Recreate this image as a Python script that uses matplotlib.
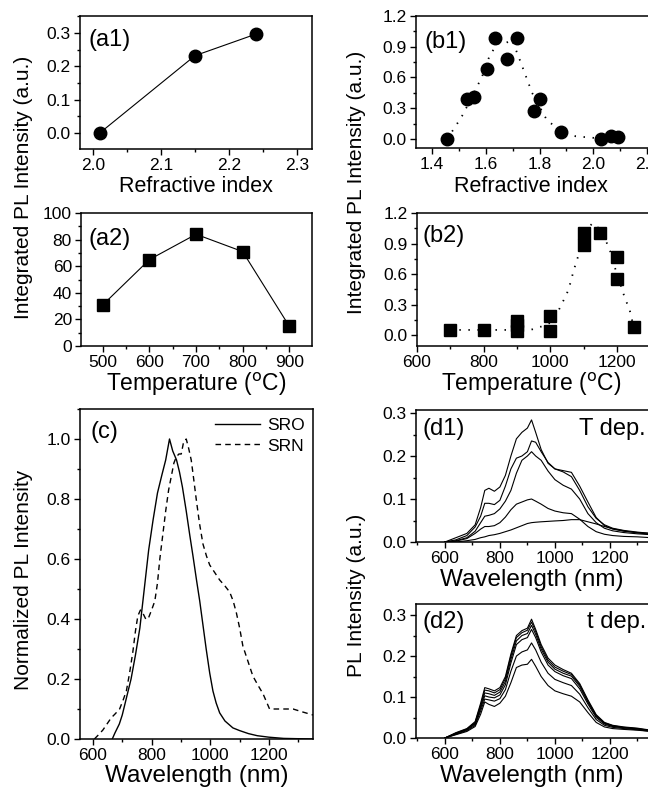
import matplotlib
matplotlib.use("Agg")
import matplotlib.pyplot as plt
from matplotlib.ticker import MultipleLocator

plt.rcParams['font.family'] = ['Liberation Sans', 'DejaVu Sans']

# ---------------- data ----------------
a1_index = [2.01, 2.15, 2.24]
a1_pl = [0.0, 0.232, 0.297]

a2_temp = [500, 600, 700, 800, 900]
a2_pl = [31, 65, 84, 71, 15]

b1_index = [1.456, 1.531, 1.555, 1.606, 1.633, 1.679, 1.716, 1.779, 1.803, 1.878, 2.028, 2.065, 2.092]
b1_pl = [0.0, 0.39, 0.41, 0.68, 0.99, 0.78, 0.99, 0.27, 0.39, 0.065, 0.0, 0.026, 0.016]
b1_fit_index = [1.456, 1.491, 1.514, 1.55, 1.586, 1.615, 1.644, 1.677, 1.697, 1.728, 1.772, 1.828, 1.888, 1.935, 2.005, 2.09]
b1_fit_pl = [0.0, 0.14, 0.236, 0.42, 0.61, 0.82, 0.93, 0.94, 0.97, 0.76, 0.45, 0.18, 0.065, 0.026, 0.01, 0.0]

b2_temp = [700, 800, 900, 900, 900, 1000, 1000, 1100, 1100, 1150, 1200, 1200, 1250]
b2_pl = [0.05, 0.05, 0.04, 0.10, 0.14, 0.04, 0.19, 0.89, 1.0, 1.0, 0.77, 0.55, 0.08]
b2_fit_temp = [700, 800, 900, 940, 970, 1000, 1020, 1035, 1050, 1060, 1068, 1077, 1087, 1100, 1115, 1127, 1140, 1165, 1180, 1195, 1215, 1225, 1237, 1250]
b2_fit_pl = [0.05, 0.05, 0.05, 0.05, 0.08, 0.12, 0.21, 0.31, 0.41, 0.51, 0.61, 0.71, 0.81, 0.95, 1.06, 1.10, 1.07, 0.94, 0.82, 0.65, 0.45, 0.35, 0.26, 0.08]

sro_wl = [666, 675, 690, 700, 715, 730, 745, 760, 775, 790, 805, 820, 835, 848, 861, 872, 885, 895, 905, 918,
          930, 941, 953, 964, 975, 986, 998, 1009, 1020, 1032, 1050, 1077, 1100, 1130, 1160, 1200, 1250, 1350]
sro_pl = [0.0, 0.02, 0.05, 0.08, 0.14, 0.20, 0.28, 0.37, 0.50, 0.63, 0.73, 0.82, 0.88, 0.93, 1.0, 0.96, 0.93, 0.89, 0.84, 0.76,
          0.68, 0.61, 0.53, 0.46, 0.38, 0.30, 0.22, 0.16, 0.12, 0.087, 0.06, 0.037, 0.028, 0.018, 0.011, 0.006, 0.002, 0.0]
srn_wl = [605, 620, 634, 648, 662, 677, 691, 703, 714, 725, 736, 745, 753, 762, 770, 780, 788, 800, 811, 820, 828, 838,
          848, 858, 868, 876, 884, 893, 901, 909, 918, 926, 935, 943, 952, 963, 975, 987, 998, 1015, 1032, 1050, 1066,
          1078, 1089, 1100, 1111, 1128, 1145, 1162, 1180, 1202, 1225, 1250, 1282, 1315, 1350]
srn_pl = [0.0, 0.015, 0.03, 0.05, 0.07, 0.085, 0.10, 0.13, 0.16, 0.22, 0.29, 0.36, 0.41, 0.43, 0.42, 0.40, 0.40, 0.43, 0.46, 0.52, 0.60, 0.68,
          0.76, 0.83, 0.88, 0.92, 0.94, 0.95, 0.95, 0.99, 1.0, 0.97, 0.93, 0.87, 0.80, 0.72, 0.65, 0.61, 0.58, 0.555, 0.53, 0.51, 0.49,
          0.46, 0.42, 0.37, 0.31, 0.26, 0.21, 0.18, 0.15, 0.10, 0.10, 0.10, 0.10, 0.09, 0.08]

wl = [600, 640, 680, 710, 730, 745, 760, 780, 800, 820, 840, 860, 880, 900, 915, 930, 950, 975, 1000, 1030, 1060, 1090, 1120, 1150, 1180, 1210, 1250, 1300, 1350]

d1_T1 = [0, 0.01, 0.02, 0.04, 0.08, 0.12, 0.125, 0.118, 0.128, 0.155, 0.20, 0.24, 0.255, 0.265, 0.284, 0.255, 0.215, 0.183, 0.17, 0.166, 0.162, 0.13, 0.093, 0.057, 0.038, 0.03, 0.025, 0.022, 0.02]
d1_T2 = [0, 0.005, 0.015, 0.035, 0.06, 0.09, 0.09, 0.087, 0.097, 0.13, 0.17, 0.195, 0.20, 0.21, 0.235, 0.232, 0.21, 0.185, 0.17, 0.163, 0.152, 0.12, 0.082, 0.055, 0.04, 0.032, 0.027, 0.023, 0.02]
d1_T3 = [0, 0.003, 0.01, 0.025, 0.045, 0.06, 0.062, 0.066, 0.077, 0.095, 0.12, 0.16, 0.19, 0.20, 0.21, 0.20, 0.19, 0.165, 0.145, 0.132, 0.123, 0.10, 0.066, 0.045, 0.032, 0.026, 0.022, 0.019, 0.017]
d1_T4 = [0, 0.002, 0.008, 0.02, 0.03, 0.036, 0.036, 0.038, 0.045, 0.058, 0.075, 0.088, 0.093, 0.098, 0.10, 0.095, 0.088, 0.078, 0.072, 0.068, 0.066, 0.053, 0.036, 0.024, 0.018, 0.015, 0.013, 0.012, 0.01]
d1_T5 = [0, 0, 0.003, 0.006, 0.01, 0.012, 0.015, 0.017, 0.02, 0.024, 0.028, 0.033, 0.038, 0.043, 0.045, 0.046, 0.047, 0.048, 0.049, 0.05, 0.052, 0.052, 0.047, 0.042, 0.036, 0.031, 0.026, 0.021, 0.018]

d2_t1 = [0, 0.013, 0.023, 0.04, 0.085, 0.123, 0.12, 0.115, 0.123, 0.15, 0.205, 0.25, 0.262, 0.268, 0.29, 0.265, 0.228, 0.195, 0.178, 0.167, 0.158, 0.133, 0.093, 0.057, 0.038, 0.031, 0.027, 0.024, 0.019]
d2_t2 = [0, 0.012, 0.022, 0.038, 0.08, 0.117, 0.115, 0.11, 0.118, 0.145, 0.20, 0.245, 0.257, 0.263, 0.283, 0.26, 0.223, 0.19, 0.173, 0.163, 0.155, 0.13, 0.09, 0.055, 0.037, 0.03, 0.026, 0.023, 0.018]
d2_t3 = [0, 0.011, 0.021, 0.036, 0.076, 0.11, 0.108, 0.104, 0.112, 0.138, 0.192, 0.237, 0.25, 0.255, 0.275, 0.253, 0.217, 0.185, 0.168, 0.158, 0.151, 0.126, 0.087, 0.053, 0.036, 0.029, 0.025, 0.022, 0.018]
d2_t4 = [0, 0.01, 0.02, 0.034, 0.072, 0.103, 0.10, 0.098, 0.105, 0.13, 0.183, 0.228, 0.24, 0.245, 0.265, 0.245, 0.21, 0.178, 0.162, 0.152, 0.145, 0.12, 0.083, 0.05, 0.034, 0.028, 0.025, 0.022, 0.017]
d2_t5 = [0, 0.009, 0.018, 0.031, 0.066, 0.095, 0.093, 0.09, 0.096, 0.118, 0.163, 0.20, 0.21, 0.215, 0.232, 0.215, 0.185, 0.158, 0.143, 0.135, 0.128, 0.107, 0.074, 0.045, 0.031, 0.026, 0.023, 0.02, 0.016]
d2_t6 = [0, 0.008, 0.016, 0.028, 0.058, 0.088, 0.082, 0.077, 0.085, 0.102, 0.135, 0.172, 0.178, 0.18, 0.192, 0.175, 0.15, 0.128, 0.115, 0.108, 0.102, 0.088, 0.062, 0.038, 0.027, 0.023, 0.021, 0.019, 0.016]

# ---------------- figure ----------------
W, H = 648, 793
fig = plt.figure(figsize=(W / 100, H / 100), dpi=100)

TICK_FS = 12.5
YLABEL_FS = 15
PANEL_FS = 17


def add_ax(l, t, r, b):
    return fig.add_axes([l / W, 1 - b / H, (r - l) / W, (b - t) / H])


def style(ax, xmaj, xmin, ymaj, ymin):
    ax.xaxis.set_major_locator(MultipleLocator(xmaj))
    ax.xaxis.set_minor_locator(MultipleLocator(xmin))
    ax.yaxis.set_major_locator(MultipleLocator(ymaj))
    ax.yaxis.set_minor_locator(MultipleLocator(ymin))
    ax.tick_params(which='both', direction='out', top=False, right=False,
                   labelsize=TICK_FS, width=1.0)
    ax.tick_params(which='major', length=4, pad=2.5)
    ax.tick_params(which='minor', length=2)
    for s in ax.spines.values():
        s.set_linewidth(1.1)


def ptext(x, y, s, ha='left', size=PANEL_FS):
    fig.text(x / W, 1 - y / H, s, ha=ha, va='center', fontsize=size)


def xlabel(ax, s, l, r, y, size):
    ax.set_xlabel(s, fontsize=size)
    pos = ax.get_position()
    xc = ((l + r) / 2 / W - pos.x0) / pos.width
    yc = ((1 - y / H) - pos.y0) / pos.height
    ax.xaxis.set_label_coords(xc, yc)
    ax.xaxis.label.set_va('center')


fmt1 = plt.FormatStrFormatter('%.1f')

# (a1)
ax = add_ax(80, 16, 312, 149)
ax.plot(a1_index, a1_pl, '-', color='black', lw=0.8, marker='o', ms=9, mfc='black', mec='black')
ax.set_xlim(1.981, 2.322)
ax.set_ylim(-0.048, 0.351)
style(ax, 0.1, 0.05, 0.1, 0.05)
ax.yaxis.set_major_formatter(fmt1)
ax.xaxis.set_major_formatter(fmt1)
xlabel(ax, 'Refractive index', 80, 312, 186, 15.5)
ptext(88, 40, '(a1)')

# (a2)
ax = add_ax(81, 213, 312, 346)
ax.plot(a2_temp, a2_pl, '-', color='black', lw=0.8, marker='s', ms=8, mfc='black', mec='black')
ax.set_xlim(453, 949)
ax.set_ylim(0, 100)
style(ax, 100, 50, 20, 10)
xlabel(ax, 'Temperature ($^{\\mathrm{o}}$C)', 81, 312, 384, 16.5)
ptext(88, 239, '(a2)')

# (b1)
ax = add_ax(416, 16, 660, 148)
ax.plot(b1_fit_index, b1_fit_pl, color='black', lw=1.3, linestyle=(0, (0.8, 4.2)))
ax.plot(b1_index, b1_pl, 'o', color='black', ms=9)
ax.set_xlim(1.340, 2.248)
ax.set_ylim(-0.088, 1.2)
style(ax, 0.2, 0.1, 0.3, 0.15)
ax.xaxis.set_major_formatter(fmt1)
ax.yaxis.set_major_formatter(fmt1)
xlabel(ax, 'Refractive index', 416, 646, 186, 15.5)
ptext(425, 42, '(b1)')

# (b2)
ax = add_ax(417, 213, 660, 346)
ax.plot(b2_fit_temp, b2_fit_pl, color='black', lw=1.3, linestyle=(0, (0.8, 4.2)))
ax.plot(b2_temp, b2_pl, 's', color='black', ms=8)
ax.set_xlim(600, 1329)
ax.set_ylim(-0.108, 1.2)
style(ax, 200, 100, 0.3, 0.15)
ax.yaxis.set_major_formatter(fmt1)
xlabel(ax, 'Temperature ($^{\\mathrm{o}}$C)', 417, 646, 384, 16.5)
ptext(423, 236, '(b2)')

# (c)
ax = add_ax(80, 409, 313, 739)
ax.plot(sro_wl, sro_pl, '-', color='black', lw=1.0, label='SRO')
ax.plot(srn_wl, srn_pl, color='black', lw=1.0, linestyle=(0, (4, 3)), label='SRN')
ax.set_xlim(556, 1350)
ax.set_ylim(0, 1.1)
style(ax, 200, 100, 0.2, 0.1)
ax.yaxis.set_major_formatter(fmt1)
xlabel(ax, 'Wavelength (nm)', 80, 313, 776, 17.5)
ax.legend(loc='upper right', bbox_to_anchor=((305 - 80) / (313 - 80), 1 - (418 - 409) / (739 - 409)),
          frameon=False, fontsize=12.5, handlelength=2.6, handletextpad=0.4,
          labelspacing=0.3, borderaxespad=0, borderpad=0)
ptext(90, 432, '(c)')

# (d1)
ax = add_ax(416, 410, 660, 542)
for ys in [d1_T1, d1_T2, d1_T3, d1_T4, d1_T5]:
    ax.plot(wl, ys, '-', color='black', lw=0.8)
ax.set_xlim(495, 1382)
ax.set_ylim(0, 0.307)
style(ax, 200, 100, 0.1, 0.05)
ax.yaxis.set_major_formatter(fmt1)
xlabel(ax, 'Wavelength (nm)', 416, 648, 580, 17.5)
ptext(423, 429, '(d1)')
ptext(646, 429, 'T dep.', ha='right')

# (d2)
ax = add_ax(416, 604, 660, 738)
for ys in [d2_t1, d2_t2, d2_t3, d2_t4, d2_t5, d2_t6]:
    ax.plot(wl, ys, '-', color='black', lw=0.8)
ax.set_xlim(495, 1382)
ax.set_ylim(0, 0.327)
style(ax, 200, 100, 0.1, 0.05)
ax.yaxis.set_major_formatter(fmt1)
xlabel(ax, 'Wavelength (nm)', 416, 648, 776, 17.5)
ptext(423, 622, '(d2)')
ptext(646, 622, 't dep.', ha='right')

# y labels
fig.text(24 / W, 1 - 187 / H, 'Integrated PL Intensity (a.u.)', rotation=90,
         ha='center', va='center', fontsize=YLABEL_FS)
fig.text(357 / W, 1 - 182 / H, 'Integrated PL Intensity (a.u.)', rotation=90,
         ha='center', va='center', fontsize=YLABEL_FS)
fig.text(24 / W, 1 - 580 / H, 'Normalized PL Intensity', rotation=90,
         ha='center', va='center', fontsize=YLABEL_FS)
fig.text(357 / W, 1 - 595 / H, 'PL Intensity (a.u.)', rotation=90,
         ha='center', va='center', fontsize=YLABEL_FS)

fig.savefig('out.png', dpi=100)
